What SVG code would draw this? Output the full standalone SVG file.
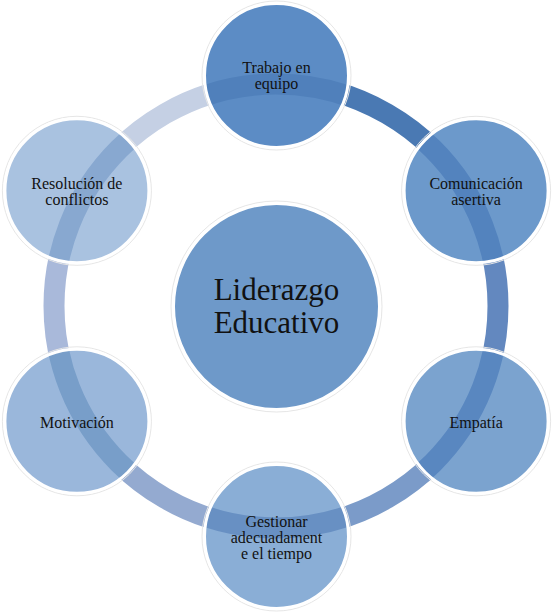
<svg xmlns="http://www.w3.org/2000/svg" width="553" height="615" viewBox="0 0 553 615">
<style>
.seg{fill:none;stroke-width:21}
.halo{fill:none;stroke:#e6e6e6;stroke-width:1}
.rim{fill:none;stroke:#ffffff;stroke-width:3}
.band{fill:none;stroke-width:21}
.lbl{font-family:"Liberation Serif","DejaVu Serif",serif;font-size:16px;fill:#111;text-anchor:middle}
.big{font-family:"Liberation Serif","DejaVu Serif",serif;font-size:31px;fill:#111;text-anchor:middle}
</style>
<defs>
<clipPath id="c1"><circle cx="276.5" cy="75.5" r="72"/></clipPath>
<clipPath id="c2"><circle cx="476.1" cy="190.8" r="72"/></clipPath>
<clipPath id="c3"><circle cx="476.1" cy="421.3" r="72"/></clipPath>
<clipPath id="c4"><circle cx="276.5" cy="536.5" r="72"/></clipPath>
<clipPath id="c5"><circle cx="76.9" cy="421.3" r="72"/></clipPath>
<clipPath id="c6"><circle cx="76.9" cy="190.8" r="72"/></clipPath>
</defs>
<g id="connectors">
<path class="seg" stroke="#4a79b3" d="M276 84 A222 222 0 0 1 468.26 195"/>
<path class="seg" stroke="#6388bf" d="M468.26 195 A222 222 0 0 1 468.26 417"/>
<path class="seg" stroke="#7b9bc9" d="M468.26 417 A222 222 0 0 1 276 528"/>
<path class="seg" stroke="#94aad0" d="M276 528 A222 222 0 0 1 83.74 417"/>
<path class="seg" stroke="#a9b9da" d="M83.74 417 A222 222 0 0 1 83.74 195"/>
<path class="seg" stroke="#c5d0e4" d="M83.74 195 A222 222 0 0 1 276 84"/>
</g>
<g id="center">
<circle class="halo" cx="276.5" cy="306.5" r="105.5"/>
<circle cx="276.5" cy="306.5" r="103" fill="#6e99c9"/>
<circle class="rim" cx="276.5" cy="306.5" r="103"/>
<text class="big" x="276.5" y="300">Liderazgo</text>
<text class="big" x="276.5" y="333">Educativo</text>
</g>
<g id="trabajo">
<circle class="halo" cx="276.5" cy="75.5" r="74.5"/>
<circle cx="276.5" cy="75.5" r="72" fill="#5c8cc5"/>
<circle class="band" cx="276" cy="306" r="222" stroke="#5080bb" clip-path="url(#c1)"/>
<circle class="rim" cx="276.5" cy="75.5" r="72"/>
<text class="lbl" x="276.5" y="73">Trabajo en</text>
<text class="lbl" x="276.5" y="89">equipo</text>
</g>
<g id="comunicacion">
<circle class="halo" cx="476.1" cy="190.8" r="74.5"/>
<circle cx="476.1" cy="190.8" r="72" fill="#6c99cb"/>
<circle class="band" cx="276" cy="306" r="222" stroke="#5383be" clip-path="url(#c2)"/>
<circle class="rim" cx="476.1" cy="190.8" r="72"/>
<text class="lbl" x="476.1" y="188.5">Comunicación</text>
<text class="lbl" x="476.1" y="204.5">asertiva</text>
</g>
<g id="empatia">
<circle class="halo" cx="476.1" cy="421.3" r="74.5"/>
<circle cx="476.1" cy="421.3" r="72" fill="#7ba3cf"/>
<circle class="band" cx="276" cy="306" r="222" stroke="#5987c0" clip-path="url(#c3)"/>
<circle class="rim" cx="476.1" cy="421.3" r="72"/>
<text class="lbl" x="476.1" y="428">Empatía</text>
</g>
<g id="gestionar">
<circle class="halo" cx="276.5" cy="536.5" r="74.5"/>
<circle cx="276.5" cy="536.5" r="72" fill="#8aaed6"/>
<circle class="band" cx="276" cy="306" r="222" stroke="#6890c3" clip-path="url(#c4)"/>
<circle class="rim" cx="276.5" cy="536.5" r="72"/>
<text class="lbl" x="276.5" y="527">Gestionar</text>
<text class="lbl" x="276.5" y="543">adecuadament</text>
<text class="lbl" x="276.5" y="559">e el tiempo</text>
</g>
<g id="motivacion">
<circle class="halo" cx="76.9" cy="421.3" r="74.5"/>
<circle cx="76.9" cy="421.3" r="72" fill="#9ab7db"/>
<circle class="band" cx="276" cy="306" r="222" stroke="#789ec9" clip-path="url(#c5)"/>
<circle class="rim" cx="76.9" cy="421.3" r="72"/>
<text class="lbl" x="76.9" y="428">Motivación</text>
</g>
<g id="resolucion">
<circle class="halo" cx="76.9" cy="190.8" r="74.5"/>
<circle cx="76.9" cy="190.8" r="72" fill="#a9c2e0"/>
<circle class="band" cx="276" cy="306" r="222" stroke="#88a8d0" clip-path="url(#c6)"/>
<circle class="rim" cx="76.9" cy="190.8" r="72"/>
<text class="lbl" x="76.9" y="188.5">Resolución de</text>
<text class="lbl" x="76.9" y="204.5">conflictos</text>
</g>
</svg>
